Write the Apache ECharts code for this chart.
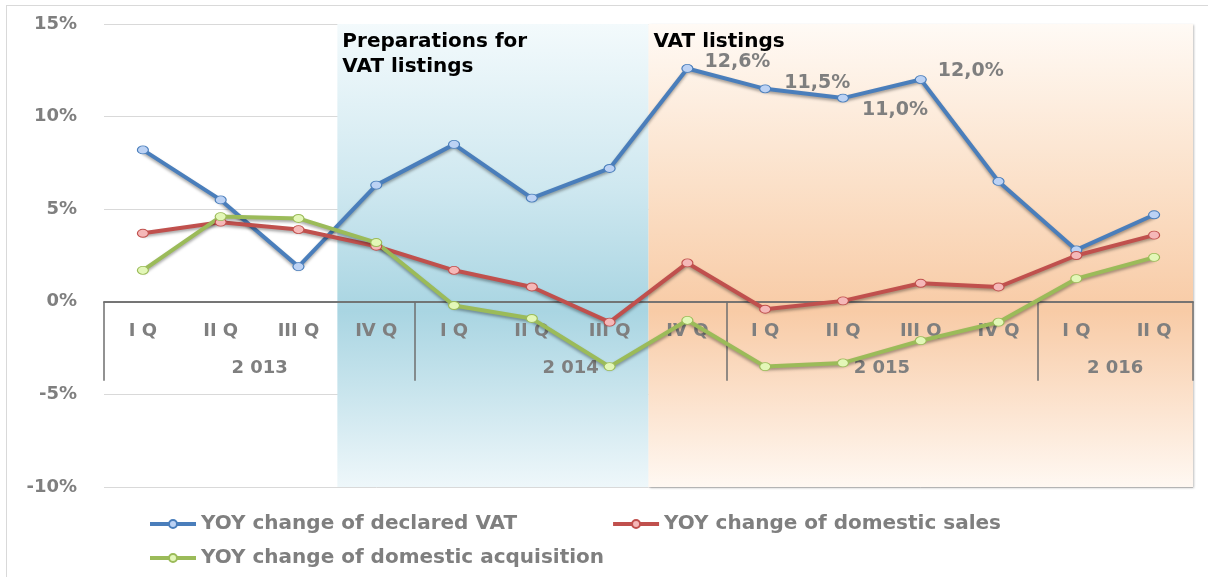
<!DOCTYPE html>
<html>
<head>
<meta charset="utf-8">
<script src="https://cdn.jsdelivr.net/npm/echarts@6/dist/echarts.min.js"></script>
<style>
  html, body { margin: 0; padding: 0; background: #fff; }
  #wrap { position: relative; width: 1208px; height: 577px; overflow: hidden; }
  #chart { width: 1208px; height: 577px; }
  #frame { position: absolute; left: 6px; top: 5px; width: 1300px; height: 700px;
           border-top: 1px solid #d9d9d9; border-left: 1px solid #d9d9d9; pointer-events: none; }
</style>
</head>
<body>
<div id="wrap"><div id="chart"></div><div id="frame"></div></div>
<script>
(function () {
  'use strict';

  const quarters = ['I Q', 'II Q', 'III Q', 'IV Q', 'I Q', 'II Q', 'III Q', 'IV Q',
    'I Q', 'II Q', 'III Q', 'IV Q', 'I Q', 'II Q'];
  const years = ['2 013', '2 014', '2 015', '2 016'];
  const quartersPerYear = [4, 4, 4, 2];

  const declaredVat = [8.2, 5.5, 1.9, 6.3, 8.5, 5.6, 7.2, 12.6, 11.5, 11.0, 12.0, 6.5, 2.8, 4.7];
  const domesticSales = [3.7, 4.3, 3.9, 3.0, 1.7, 0.8, -1.1, 2.1, -0.4, 0.05, 1.0, 0.8, 2.5, 3.6];
  const domesticAcq = [1.7, 4.6, 4.5, 3.2, -0.2, -0.9, -3.5, -1.0, -3.5, -3.3, -2.1, -1.1, 1.25, 2.4];

  // periods as quarter index ranges [from, to)
  const prepPeriod = [3, 7];
  const listingPeriod = [7, 14];
  const labelledPoints = [7, 8, 9, 10];
  const labelOffsets = { 7: [6, -6], 8: [8, -6], 9: [8, 12], 10: [6, -8] };

  const Y_MIN = -10, Y_MAX = 15;
  const GRID = { left: 104, right: 15, top: 24, bottom: 90 };
  const GRID_H = 577 - GRID.top - GRID.bottom;
  // x axes sit on the zero line
  const ZERO_OFFSET = -GRID_H * (0 - Y_MIN) / (Y_MAX - Y_MIN);

  const GRAY = '#7f7f7f';
  const FONT = '"DejaVu Sans", Verdana, sans-serif';

  const bounds = [0];
  quartersPerYear.forEach(function (n) { bounds.push(bounds[bounds.length - 1] + n); });
  const centres = quartersPerYear.map(function (n, i) { return bounds[i] + n / 2; });

  function pct(v) { return v.toFixed(1).replace('.', ',') + '%'; }

  function vatData() {
    return declaredVat.map(function (v, i) {
      if (labelledPoints.indexOf(i) < 0) return v;
      return {
        value: v,
        label: {
          show: true, position: 'right', offset: labelOffsets[i],
          formatter: function (p) { return pct(p.value); },
          color: GRAY, fontFamily: FONT, fontWeight: 'bold', fontSize: 19
        }
      };
    });
  }

  function lineSeries(name, data, color, fill) {
    return {
      name: name, type: 'line', data: data, xAxisIndex: 0, z: 3,
      symbol: 'circle', symbolSize: [11, 8], showAllSymbol: true,
      lineStyle: { color: color, width: 4, shadowColor: 'rgba(0,0,0,0.35)', shadowBlur: 3, shadowOffsetY: 2 },
      itemStyle: { color: fill, borderColor: color, borderWidth: 1 },
      emphasis: { disabled: true }
    };
  }

  function band(stops) {
    return {
      type: 'linear', x: 0, y: 0, x2: 0, y2: 1,
      colorStops: stops.map(function (s) { return { offset: s[0], color: s[1] }; })
    };
  }

  const areaLabel = { show: true, position: 'insideTopLeft', distance: 5, color: '#000',
    fontFamily: FONT, fontWeight: 'bold', fontSize: 20, lineHeight: 25 };

  const legendText = { color: GRAY, fontFamily: FONT, fontWeight: 'bold', fontSize: 20 };
  const legendBase = { left: 143, itemWidth: 46, itemHeight: 10, textStyle: legendText,
    lineStyle: { width: 4 }, selectedMode: false };
  const axisLineStyle = { color: '#6f6f6f', width: 1.5 };

  const chart = echarts.init(document.getElementById('chart'), null, { renderer: 'canvas' });
  chart.setOption({
    animation: false,
    grid: { left: GRID.left, right: GRID.right, top: GRID.top, bottom: GRID.bottom, containLabel: false },
    legend: [
      Object.assign({ data: ['YOY change of declared VAT', 'YOY change of domestic sales'],
        top: 509, itemGap: 94 }, legendBase),
      Object.assign({ data: ['YOY change of domestic acquisition'], top: 543 }, legendBase)
    ],
    xAxis: [
      {
        type: 'category', data: quarters, boundaryGap: true, z: 1.5,
        position: 'bottom', offset: ZERO_OFFSET,
        axisLine: { onZero: false, lineStyle: axisLineStyle },
        axisTick: { show: false },
        axisLabel: { interval: 0, margin: 21, color: GRAY, fontFamily: FONT, fontWeight: 'bold', fontSize: 18 },
        splitLine: { show: false }
      },
      {
        type: 'value', min: 0, max: quarters.length, z: 1.5,
        position: 'bottom', offset: ZERO_OFFSET,
        axisLine: { show: true, onZero: false, lineStyle: axisLineStyle },
        axisTick: { show: true, inside: false, length: 79, customValues: bounds, lineStyle: axisLineStyle },
        axisLabel: { margin: 58, customValues: centres, color: GRAY, fontFamily: FONT, fontWeight: 'bold', fontSize: 18,
          formatter: function (v) {
            const i = centres.indexOf(v);
            return i >= 0 ? years[i] : '';
          } },
        splitLine: { show: false }
      }
    ],
    yAxis: {
      type: 'value', min: Y_MIN, max: Y_MAX, interval: 5,
      axisLine: { show: false }, axisTick: { show: false },
      axisLabel: { margin: 27, color: GRAY, fontFamily: FONT, fontWeight: 'bold', fontSize: 18,
        formatter: function (v) { return v + '%'; } },
      splitLine: { lineStyle: { color: '#d9d9d9', width: 1 } }
    },
    series: [
      {
        name: 'periods', type: 'line', xAxisIndex: 1, data: [], silent: true,
        markArea: {
          silent: true, z: 1,
          data: [
            [{ name: 'Preparations for\nVAT listings', xAxis: prepPeriod[0],
               itemStyle: { color: band([[0, '#f3fafc'], [0.35, '#cfe8f0'], [0.62, '#a9d5e2'], [1, '#eef7fa']]) },
               label: areaLabel },
             { xAxis: prepPeriod[1] }],
            [{ name: 'VAT listings', xAxis: listingPeriod[0],
               itemStyle: { color: band([[0, '#fffaf5'], [0.35, '#fbe0c8'], [0.62, '#f8cba6'], [1, '#fff8f2']]),
                 shadowColor: 'rgba(0,0,0,0.25)', shadowBlur: 2, shadowOffsetX: 1, shadowOffsetY: 1 },
               label: areaLabel },
             { xAxis: listingPeriod[1] }]
          ]
        }
      },
      lineSeries('YOY change of declared VAT', vatData(), '#4a7ebb', '#bcd2f4'),
      lineSeries('YOY change of domestic sales', domesticSales, '#c0504d', '#f5b8b8'),
      lineSeries('YOY change of domestic acquisition', domesticAcq, '#9bbb59', '#e3f7b8')
    ]
  });
})();
</script>
</body>
</html>
